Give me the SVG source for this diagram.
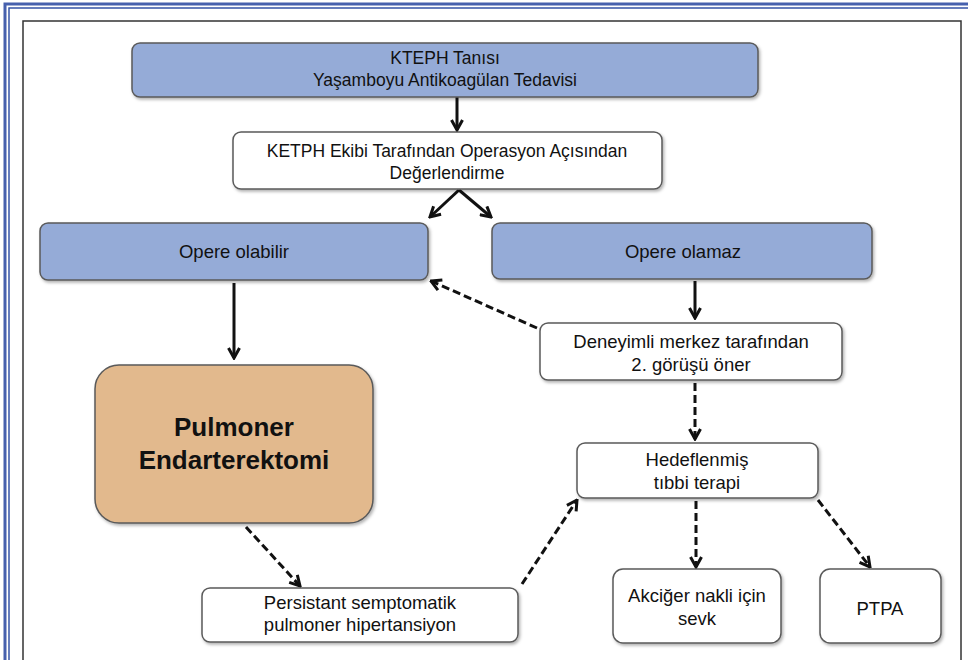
<svg xmlns="http://www.w3.org/2000/svg" width="968" height="660" viewBox="0 0 968 660">
<style>
.box{stroke:#5a5a5a;stroke-width:1.5;filter:url(#sh)}
.blue{fill:#95abd7}
.white{fill:#ffffff}
.orange{fill:#e2b98d}
.t{font-family:"Liberation Sans",Arial,sans-serif;font-size:18.5px;fill:#111;text-anchor:middle}
.ts{font-size:17.5px}
.tb{font-size:26px;font-weight:bold}
.c{stroke:#111;stroke-width:3;fill:none;marker-end:url(#ah)}
.d{stroke-dasharray:8 4}
</style>
<defs>
<filter id="sh" x="-10%" y="-10%" width="120%" height="130%">
<feDropShadow dx="1.5" dy="2" stdDeviation="1.5" flood-color="#000" flood-opacity="0.3"/>
</filter>
<marker id="ah" viewBox="0 0 14 14" refX="12.5" refY="7" markerWidth="14" markerHeight="14" orient="auto" markerUnits="userSpaceOnUse">
<path d="M2.5,1.5 L12.5,7 L2.5,12.5" fill="none" stroke="#111" stroke-width="3"/>
</marker>
</defs>
<rect width="968" height="660" fill="#ffffff"/>
<g id="frame">
<path d="M5,660 V4 H968" fill="none" stroke="#4660ad" stroke-width="3"/>
<path d="M9,660 V8 H968" fill="none" stroke="#3553a6" stroke-width="1.5"/>
<rect x="23" y="21" width="938" height="660" fill="none" stroke="#333" stroke-width="1.5"/>
</g>
<g id="connectors">
<line class="c" x1="457" y1="97" x2="457" y2="130"/>
<line class="c" x1="459" y1="190" x2="430" y2="217"/>
<line class="c" x1="459" y1="190" x2="491" y2="217"/>
<line class="c" x1="234" y1="283" x2="234" y2="358"/>
<line class="c" x1="695" y1="281" x2="695" y2="318"/>
<line class="c d" x1="537" y1="328" x2="431" y2="281"/>
<line class="c d" x1="695" y1="383" x2="695" y2="439"/>
<line class="c d" x1="246" y1="527" x2="300" y2="586"/>
<line class="c d" x1="522" y1="584" x2="577" y2="500"/>
<line class="c d" x1="696" y1="501" x2="696" y2="567"/>
<line class="c d" x1="818" y1="500" x2="870" y2="567"/>
</g>
<g id="n1">
<rect class="box blue" x="132" y="43" width="626" height="54" rx="8"/>
<text class="t ts" x="445" y="64">KTEPH Tanısı</text>
<text class="t ts" x="445" y="86">Yaşamboyu Antikoagülan Tedavisi</text>
</g>
<g id="n2">
<rect class="box white" x="233" y="132" width="429" height="57" rx="8"/>
<text class="t ts" x="447" y="157">KETPH Ekibi Tarafından Operasyon Açısından</text>
<text class="t ts" x="447" y="179">Değerlendirme</text>
</g>
<g id="n3">
<rect class="box blue" x="40" y="223" width="388" height="57" rx="8"/>
<text class="t" x="234" y="258">Opere olabilir</text>
</g>
<g id="n4">
<rect class="box blue" x="492" y="223" width="380" height="56" rx="8"/>
<text class="t" x="683" y="258">Opere olamaz</text>
</g>
<g id="n5">
<rect class="box orange" x="95" y="365" width="278" height="158" rx="24"/>
<text class="t tb" x="234" y="436">Pulmoner</text>
<text class="t tb" x="234" y="469">Endarterektomi</text>
</g>
<g id="n6">
<rect class="box white" x="540" y="323" width="302" height="57" rx="8"/>
<text class="t" x="691" y="348">Deneyimli merkez tarafından</text>
<text class="t" x="691" y="371">2. görüşü öner</text>
</g>
<g id="n7">
<rect class="box white" x="577" y="443" width="241" height="55" rx="8"/>
<text class="t" x="697" y="466">Hedeflenmiş</text>
<text class="t" x="697" y="489">tıbbi terapi</text>
</g>
<g id="n8">
<rect class="box white" x="202" y="588" width="316" height="54" rx="8"/>
<text class="t" x="360" y="609">Persistant semptomatik</text>
<text class="t" x="360" y="631">pulmoner hipertansiyon</text>
</g>
<g id="n9">
<rect class="box white" x="613" y="569" width="168" height="74" rx="10"/>
<text class="t" x="697" y="602">Akciğer nakli için</text>
<text class="t" x="697" y="625">sevk</text>
</g>
<g id="n10">
<rect class="box white" x="820" y="569" width="121" height="74" rx="10"/>
<text class="t" x="880" y="615">PTPA</text>
</g>
</svg>
